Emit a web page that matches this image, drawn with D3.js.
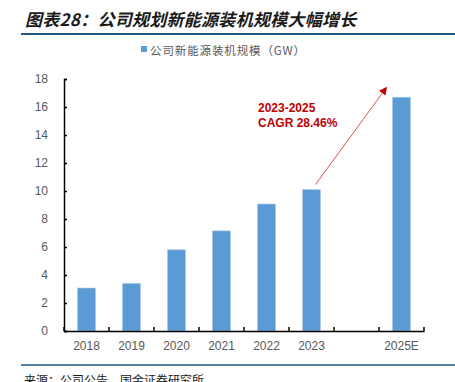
<!DOCTYPE html>
<html><head><meta charset="utf-8">
<script src="https://cdn.jsdelivr.net/npm/d3@7"></script>
<style>body{margin:0;background:#fff;}svg{display:block;}</style>
</head><body>
<script>
const categories = ["2018","2019","2020","2021","2022","2023","2024","2025E"];
const tickLabels = ["2018","2019","2020","2021","2022","2023","","2025E"];
const values = [3.07, 3.4, 5.8, 7.15, 9.07, 10.1, null, 16.7];
const yTicks = [0,2,4,6,8,10,12,14,16,18];
const title = "图表28：公司规划新能源装机规模大幅增长";
const seriesName = "公司新能源装机规模（GW）";
const annotation = ["2023-2025", "CAGR 28.46%"];
const source = "来源：公司公告，国金证券研究所";

const W = 455, H = 382;
const svg = d3.select("body").append("svg").attr("width", W).attr("height", H);
const font = "'Noto Sans CJK SC', sans-serif";

svg.append("text").attr("x", 25).attr("y", 26).attr("font-family", font)
  .attr("font-size", 17).attr("font-weight", "bold").attr("font-style", "italic")
  .attr("letter-spacing", 0.7).attr("textLength", 332).attr("lengthAdjust", "spacing")
  .attr("fill", "#1a1a1a").text(title);
svg.append("line").attr("x1", 21).attr("x2", 455).attr("y1", 34).attr("y2", 34)
  .attr("stroke", "#1f5a80").attr("stroke-width", 2);

// legend
svg.append("rect").attr("x", 141).attr("y", 46).attr("width", 6).attr("height", 6).attr("fill", "#5b9bd5");
svg.append("text").attr("x", 150).attr("y", 54.5).attr("font-family", font).attr("font-size", 11.5)
  .attr("textLength", 155).attr("lengthAdjust", "spacing")
  .attr("fill", "#595959").text(seriesName);

const x = d3.scaleBand().domain(categories).range([64, 424]).paddingInner(0.6).paddingOuter(0.3);
const y = d3.scaleLinear().domain([0, 18]).range([331, 79]);

const bars = categories.map((c, i) => ({c, v: values[i]})).filter(d => d.v != null);
svg.selectAll("rect.bar").data(bars).enter().append("rect").attr("class", "bar")
  .attr("x", d => x(d.c)).attr("width", x.bandwidth())
  .attr("y", d => y(d.v)).attr("height", d => y(0) - y(d.v))
  .attr("fill", "#5b9bd5").attr("stroke", "#a9c8e8").attr("stroke-width", 0.6);

// y axis
const ya = svg.append("g").attr("transform", "translate(64,0)")
  .call(d3.axisLeft(y).tickValues(yTicks).tickSize(-3).tickPadding(16));
ya.select(".domain").attr("stroke", "#000").attr("stroke-width", 1.5);
ya.selectAll(".tick line").attr("stroke", "#000").attr("stroke-width", 1.5);
ya.selectAll("text").attr("font-family", "Arial, 'Liberation Sans', sans-serif").attr("font-size", 12).attr("fill", "#595959");

// x axis
const xa = svg.append("g").attr("transform", `translate(0,${y(0)})`)
  .call(d3.axisBottom(x).tickFormat((d, i) => tickLabels[i]).tickSize(0).tickPadding(10));
xa.select(".domain").attr("stroke", "#000").attr("stroke-width", 1.5);
xa.selectAll("text").attr("font-family", "Arial, 'Liberation Sans', sans-serif").attr("font-size", 12).attr("fill", "#595959");
const bounds = d3.range(categories.length + 1).map(i => 64 + i * (360 / categories.length));
svg.selectAll("line.xt").data(bounds).enter().append("line").attr("class", "xt")
  .attr("x1", d => d).attr("x2", d => d).attr("y1", y(0)).attr("y2", y(0) - 4)
  .attr("stroke", "#000").attr("stroke-width", 1.5);

// annotation
const defs = svg.append("defs");
defs.append("marker").attr("id", "ah").attr("viewBox", "0 0 10 10").attr("refX", 9).attr("refY", 5)
  .attr("markerWidth", 8).attr("markerHeight", 8).attr("orient", "auto")
  .append("path").attr("d", "M0,0 L10,5 L0,10 Z").attr("fill", "#c00000");
const x23 = x("2023") + x.bandwidth() / 2, x25 = x("2025E") + x.bandwidth() / 2;
svg.append("line").attr("x1", x23 + 4).attr("y1", y(10.1) - 5).attr("x2", x25 - 15).attr("y2", y(17.4))
  .attr("stroke", "#e05050").attr("stroke-width", 1).attr("marker-end", "url(#ah)");
annotation.forEach((t, i) => {
  svg.append("text").attr("x", 258).attr("y", 112 + i * 15).attr("font-family", "Arial, 'Liberation Sans', sans-serif")
    .attr("font-size", 12).attr("font-weight", "bold").attr("fill", "#c00000").text(t);
});

// footer
svg.append("line").attr("x1", 21).attr("x2", 455).attr("y1", 365).attr("y2", 365)
  .attr("stroke", "#1f5a80").attr("stroke-width", 1.5);
svg.append("text").attr("x", 24).attr("y", 385).attr("font-family", font).attr("font-size", 12)
  .attr("fill", "#1a1a1a").text(source);
</script>
</body></html>
